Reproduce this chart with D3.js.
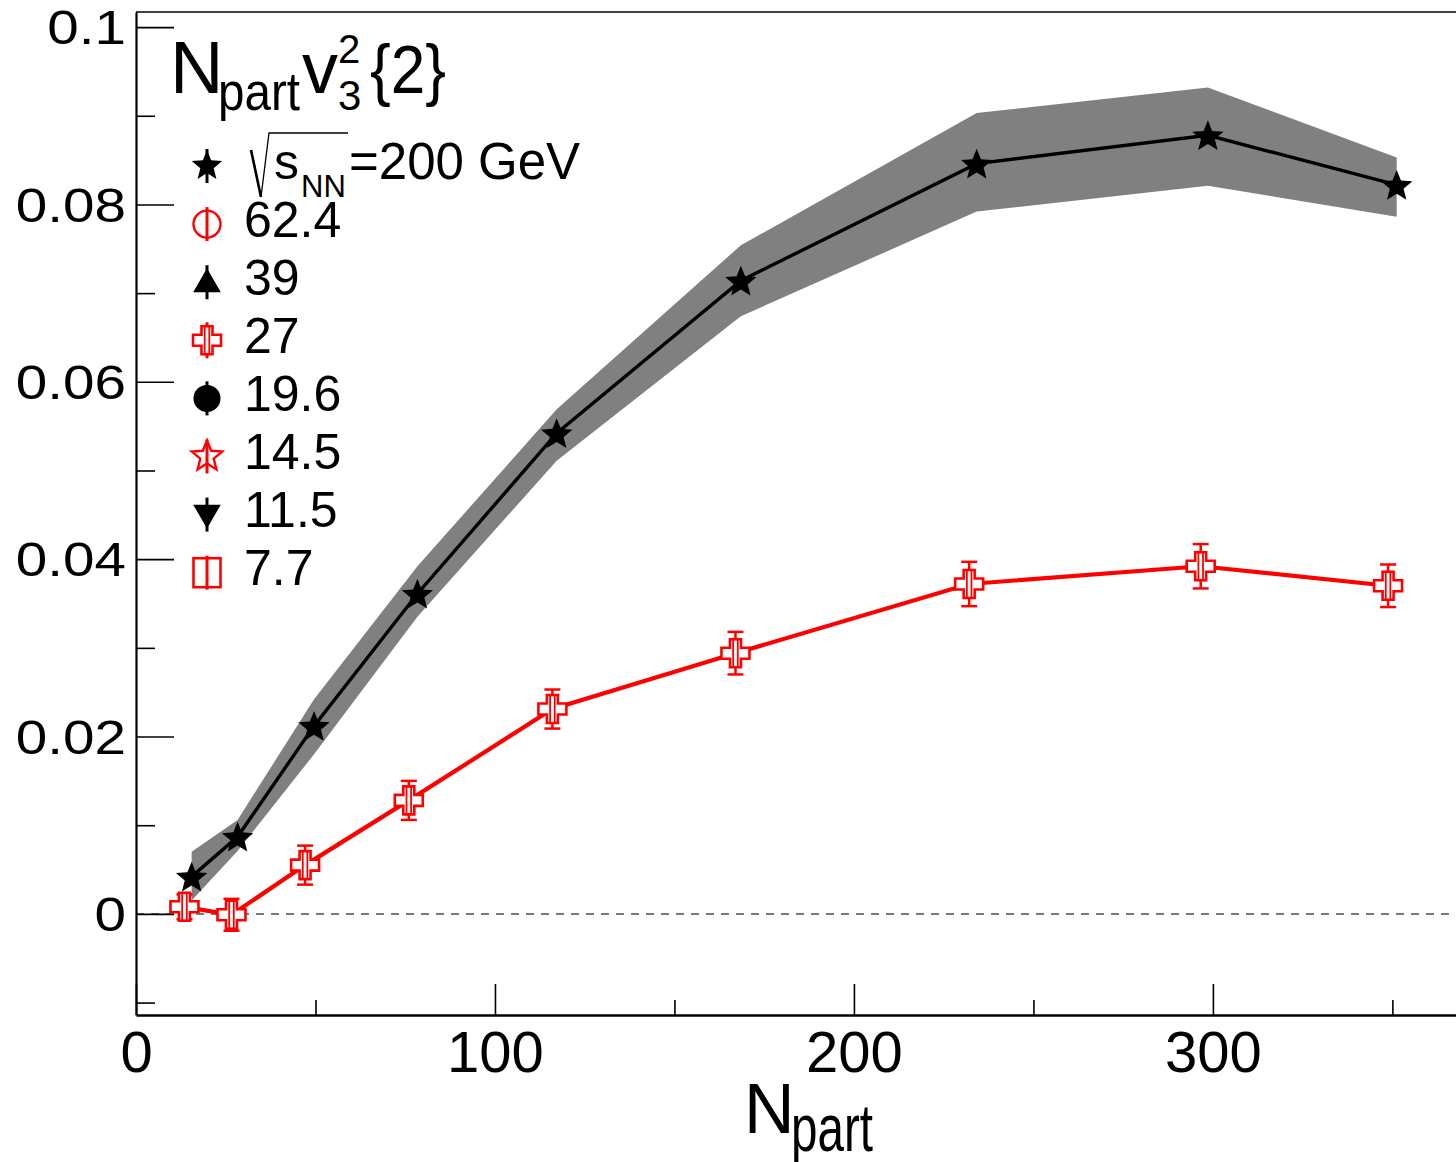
<!DOCTYPE html>
<html>
<head>
<meta charset="utf-8">
<script src="https://cdn.jsdelivr.net/npm/d3@7"></script>
<style>
  body { margin: 0; background: #fff; }
  svg { display: block; }
  text { font-family: "Liberation Sans", Arial, Helvetica, sans-serif; fill: #000; }
</style>
</head>
<body>
<svg id="chart" width="1456" height="1162"></svg>
<script>
// ---- data: N_part * v3^2{2} vs N_part ----
// 200 GeV (stars) with systematic band
const npart200 = [15.5, 28.3, 49.6, 78.4, 117.2, 168.5, 234.2, 298.6, 351.2];
const v200     = [0.0042, 0.0087, 0.0212, 0.0361, 0.0542, 0.0714, 0.0846, 0.0878, 0.0822];
const sysHi200 = [0.0070, 0.0106, 0.0242, 0.0392, 0.0569, 0.0754, 0.0903, 0.0932, 0.0853];
const sysLo200 = [0.0015, 0.0071, 0.0180, 0.0335, 0.0511, 0.0674, 0.0792, 0.0821, 0.0786];

// 27 GeV (open crosses) with statistical errors
const npart27 = [13.5, 26.6, 47.1, 76.0, 116.0, 167.0, 232.1, 296.6, 348.8];
const v27     = [0.0008, -0.0001, 0.0055, 0.0128, 0.0231, 0.0294, 0.0372, 0.0392, 0.0370];
const err27   = [0.0014, 0.0018, 0.0022, 0.0022, 0.0022, 0.0024, 0.0025, 0.0025, 0.0024];

// legend entries (beam energies)
const legendLabels = ["200 GeV", "62.4", "39", "27", "19.6", "14.5", "11.5", "7.7"];
const legendShapes = ["starFilled", "phi", "triUp", "cross", "dot", "starOpen", "triDown", "square"];

// axis ticks
const xMajorTicks = [0, 100, 200, 300];
const xMinorTicks = [50, 150, 250, 350];
const yMajorTicks = [0, 0.02, 0.04, 0.06, 0.08, 0.1];
const yMinorTicks = [-0.01, 0.01, 0.03, 0.05, 0.07, 0.09];

const RED = "#ff0000";
const BAND = "#808080";

const svg = d3.select("#chart");
svg.append("rect").attr("width", 1456).attr("height", 1162).attr("fill", "#fff");

const x = d3.scaleLinear().domain([0, 368]).range([136, 1457]);
const y = d3.scaleLinear().domain([-0.0114, 0.1017]).range([1015, 12]);

// ---- zero reference line ----
svg.append("line")
  .attr("x1", x(0)).attr("x2", 1456)
  .attr("y1", y(0)).attr("y2", y(0))
  .attr("stroke", "#7a7a7a").attr("stroke-width", 2)
  .attr("stroke-dasharray", "8,7");

// ---- axes ----
const yFmt = d => d === 0 ? "0" : String(+d.toFixed(2));

const yAxis = svg.append("g").attr("transform", `translate(${x(0)},0)`)
  .call(d3.axisLeft(y).tickValues(yMajorTicks).tickSizeInner(-38).tickSizeOuter(0)
        .tickPadding(10).tickFormat(yFmt));
svg.append("g").attr("transform", `translate(${x(0)},0)`)
  .call(d3.axisLeft(y).tickValues(yMinorTicks).tickSizeInner(-19).tickSizeOuter(0)
        .tickFormat(""))
  .call(g => g.select(".domain").remove());

const xAxis = svg.append("g").attr("transform", `translate(0,${y.range()[0]})`)
  .call(d3.axisBottom(x).tickValues(xMajorTicks).tickSizeInner(-31).tickSizeOuter(0)
        .tickPadding(16));
svg.append("g").attr("transform", `translate(0,${y.range()[0]})`)
  .call(d3.axisBottom(x).tickValues(xMinorTicks).tickSizeInner(-15).tickSizeOuter(0)
        .tickFormat(""))
  .call(g => g.select(".domain").remove());

svg.selectAll(".tick line").attr("stroke", "#000").attr("stroke-width", 1.6);
yAxis.select(".domain").attr("stroke", "#000").attr("stroke-width", 2.2);
xAxis.select(".domain").attr("stroke", "#000").attr("stroke-width", 2.6);

// y tick labels: wide digits
const yLabScale = 1.18;
yAxis.selectAll(".tick text")
  .attr("font-size", 48)
  .attr("font-family", "'Liberation Sans', Arial, sans-serif")
  .attr("x", -10 / yLabScale)
  .attr("dy", "0.35em")
  .attr("transform", `scale(${yLabScale},1)`)
  .attr("fill", "#000");

xAxis.selectAll(".tick text")
  .attr("font-size", 58)
  .attr("font-family", "'Liberation Sans', Arial, sans-serif")
  .attr("fill", "#000");

// top frame line
svg.append("line")
  .attr("x1", x(0)).attr("x2", 1456).attr("y1", y.range()[1]).attr("y2", y.range()[1])
  .attr("stroke", "#000").attr("stroke-width", 1.6);

// five-pointed star centred at the origin
function starPath(R, ratio = 0.44) {
  const pts = d3.range(10).map(k => {
    const r = k % 2 ? R * ratio : R;
    const a = -Math.PI / 2 + k * Math.PI / 5;
    return [r * Math.cos(a), r * Math.sin(a)];
  });
  return "M" + pts.map(p => p.join(",")).join("L") + "Z";
}

// ---- 200 GeV band + line + stars ----
const idx200 = d3.range(npart200.length);
const band = d3.area()
  .x(i => x(npart200[i]))
  .y0(i => y(sysLo200[i]))
  .y1(i => y(sysHi200[i]));
svg.append("path").attr("d", band(idx200)).attr("fill", BAND);

const line200 = d3.line().x(i => x(npart200[i])).y(i => y(v200[i]));
svg.append("path").attr("d", line200(idx200))
  .attr("fill", "none").attr("stroke", "#000").attr("stroke-width", 3.4);

svg.selectAll(".star200").data(idx200).join("path")
  .attr("class", "star200")
  .attr("transform", i => `translate(${x(npart200[i])},${y(v200[i]) + 1.5})`)
  .attr("d", starPath(16.5))
  .attr("fill", "#000");

// ---- 27 GeV line + error bars + crosses ----
const idx27 = d3.range(npart27.length);
const line27 = d3.line().x(i => x(npart27[i])).y(i => y(v27[i]));
svg.append("path").attr("d", line27(idx27))
  .attr("fill", "none").attr("stroke", RED).attr("stroke-width", 4.2);

function crossPath(L, a) {
  return `M${-a},${-L}H${a}V${-a}H${L}V${a}H${a}V${L}H${-a}V${a}H${-L}V${-a}H${-a}Z`;
}

const eb = svg.selectAll(".eb27").data(idx27).join("g").attr("class", "eb27");
eb.append("line")
  .attr("x1", i => x(npart27[i])).attr("x2", i => x(npart27[i]))
  .attr("y1", i => y(v27[i] - err27[i])).attr("y2", i => y(v27[i] + err27[i]))
  .attr("stroke", RED).attr("stroke-width", 2.5);
[-1, 1].forEach(s => {
  eb.append("line")
    .attr("x1", i => x(npart27[i]) - 8).attr("x2", i => x(npart27[i]) + 8)
    .attr("y1", i => y(v27[i] + s * err27[i])).attr("y2", i => y(v27[i] + s * err27[i]))
    .attr("stroke", RED).attr("stroke-width", 2.5);
});

const cross27 = svg.selectAll(".m27").data(idx27).join("g").attr("class", "m27")
  .attr("transform", i => `translate(${x(npart27[i])},${y(v27[i])})`);
cross27.append("path").attr("d", crossPath(14, 5.5))
  .attr("fill", "#fff").attr("stroke", RED).attr("stroke-width", 2.6);
cross27.append("rect").attr("x", -2.3).attr("y", -14).attr("width", 4.6).attr("height", 28)
  .attr("fill", "none").attr("stroke", RED).attr("stroke-width", 1.8);

// ---- title: N_part v3^2{2} ----
svg.append("text").attr("x", 170).attr("y", 93).attr("font-size", 74).text("N");
svg.append("text").attr("x", 218).attr("y", 110).attr("font-size", 54)
  .attr("textLength", 82).attr("lengthAdjust", "spacingAndGlyphs").text("part");
svg.append("text").attr("x", 302).attr("y", 93).attr("font-size", 72).text("v");
svg.append("text").attr("x", 338).attr("y", 63).attr("font-size", 40).text("2");
svg.append("text").attr("x", 338).attr("y", 110).attr("font-size", 42).text("3");
svg.append("text").attr("x", 370).attr("y", 93).attr("font-size", 68)
  .attr("textLength", 76).attr("lengthAdjust", "spacingAndGlyphs").text("{2}");

// ---- legend ----
const legY = i => 166 + i * 58.1;
const legX = 207;

function drawLegendMarker(g, shape) {
  const black = !["phi", "cross", "starOpen", "square"].includes(shape);
  const col = black ? "#000" : RED;
  // error stub through every marker
  const stub = () => g.append("line").attr("x1", 0).attr("x2", 0).attr("y1", -17).attr("y2", 17)
    .attr("stroke", col).attr("stroke-width", 3);
  if (black) stub();
  switch (shape) {
    case "starFilled":
      g.append("path").attr("d", starPath(16)).attr("fill", "#000"); break;
    case "phi":
      g.append("circle").attr("r", 13.5).attr("fill", "#fff").attr("stroke", RED).attr("stroke-width", 2.4); break;
    case "triUp":
      g.append("path").attr("d", d3.symbol(d3.symbolTriangle, 330)()).attr("transform", "translate(0,2)").attr("fill", "#000"); break;
    case "cross":
      g.append("path").attr("d", crossPath(14, 5.5)).attr("fill", "#fff").attr("stroke", RED).attr("stroke-width", 2.6);
      g.append("rect").attr("x", -2.3).attr("y", -14).attr("width", 4.6).attr("height", 28)
        .attr("fill", "none").attr("stroke", RED).attr("stroke-width", 1.8);
      break;
    case "dot":
      g.append("circle").attr("r", 13.5).attr("fill", "#000"); break;
    case "starOpen":
      g.append("path").attr("d", starPath(16)).attr("fill", "#fff").attr("stroke", RED).attr("stroke-width", 2.4); break;
    case "triDown":
      g.append("path").attr("d", d3.symbol(d3.symbolTriangle, 330)()).attr("transform", "translate(0,-2) rotate(180)").attr("fill", "#000"); break;
    case "square":
      g.append("rect").attr("x", -13.5).attr("y", -14.5).attr("width", 27).attr("height", 29)
        .attr("fill", "#fff").attr("stroke", RED).attr("stroke-width", 2.6); break;
  }
  if (!black) {
    if (shape === "cross") {
      g.append("line").attr("x1", 0).attr("x2", 0).attr("y1", -18).attr("y2", -14).attr("stroke", RED).attr("stroke-width", 3);
      g.append("line").attr("x1", 0).attr("x2", 0).attr("y1", 14).attr("y2", 18).attr("stroke", RED).attr("stroke-width", 3);
    } else {
      stub();
    }
  }
}

legendLabels.forEach((lab, i) => {
  const g = svg.append("g").attr("transform", `translate(${legX},${legY(i)})`);
  drawLegendMarker(g, legendShapes[i]);
});

// first entry: sqrt(s_NN)=200 GeV
const y0 = legY(0);
svg.append("path")
  .attr("d", `M251,${y0 - 16}L261,${y0 + 31}`)
  .attr("stroke", "#000").attr("stroke-width", 2.6).attr("fill", "none");
svg.append("path")
  .attr("d", `M261,${y0 + 31}L269,${y0 - 33}H348`)
  .attr("stroke", "#000").attr("stroke-width", 1.3).attr("fill", "none");
svg.append("text").attr("x", 274).attr("y", y0 + 13).attr("font-size", 50).text("s");
svg.append("text").attr("x", 301).attr("y", y0 + 31).attr("font-size", 31).text("NN");
svg.append("text").attr("x", 349).attr("y", y0 + 13).attr("font-size", 51).text("=" + legendLabels[0]);

legendLabels.slice(1).forEach((lab, k) => {
  const i = k + 1;
  svg.append("text").attr("x", 244).attr("y", legY(i) + 12.5).attr("font-size", 50).text(lab);
});

// ---- x axis title ----
svg.append("text").attr("x", 744).attr("y", 1133).attr("font-size", 70).text("N");
svg.append("text").attr("x", 791).attr("y", 1151).attr("font-size", 66)
  .attr("textLength", 82).attr("lengthAdjust", "spacingAndGlyphs").text("part");
</script>
</body>
</html>
